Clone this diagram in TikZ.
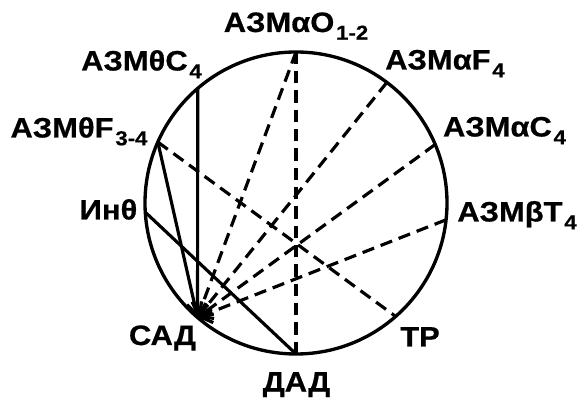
\documentclass[tikz,border=0pt]{standalone}
\usepackage{fontspec}
\setmainfont{Liberation Sans}[FakeStretch=1.1,BoldFeatures={FakeBold=0.6}]
\usepackage{tikz}
\usetikzlibrary{arrows.meta}
\newcommand{\idx}[1]{\hspace{1pt}\raisebox{-4.4pt}{\fontsize{11.5}{12}\selectfont #1}}
\tikzstyle{rim} = [line width=1.9pt]
\tikzstyle{solidarrow} = [line width=1.8pt,->,>={Straight Barb[length=6pt,width=12pt]}]
\tikzstyle{solidline} = [line width=1.8pt]
\tikzstyle{dasharrow} = [line width=1.8pt,dash pattern=on 7pt off 4pt,->,>={Straight Barb[length=6pt,width=12pt]}]
\tikzstyle{dashline} = [line width=1.8pt,dash pattern=on 7pt off 4pt]
\tikzstyle{lbl} = [anchor=base,inner sep=0pt,font=\fontsize{16}{18}\selectfont\bfseries]

\begin{document}
\begin{tikzpicture}
\useasboundingbox (-5.92,-3.92) rectangle (5.64,4.06);
% points on the circle
\coordinate (ao) at (90:3.02);
\coordinate (af) at (53:3.02);
\coordinate (ac) at (22.8:3.02);
\coordinate (bt) at (-6.4:3.02);
\coordinate (tr) at (311.3:3.02);
\coordinate (dad) at (270:3.02);
\coordinate (sad) at (229.3:3.02);
\coordinate (inth) at (183.5:3.02);
\coordinate (thf) at (156.2:3.02);
\coordinate (thc) at (130.6:3.02);

\draw [rim] (0,0) circle (3.02);

% labels
\node (lao) [lbl] at (0,3.42) {АЗМαO\idx{1-2}};
\node (lthc) [lbl] at (-3.09,2.65) {АЗМθC\idx{4}};
\node (laf) [lbl] at (2.98,2.67) {АЗМαF\idx{4}};
\node (lthf) [lbl] at (-4.34,1.31) {АЗМθF\idx{3-4}};
\node (lac) [lbl] at (4.17,1.33) {АЗМαC\idx{4}};
\node (linth) [lbl] at (-3.75,-0.33) {Инθ};
\node (lbt) [lbl] at (4.42,-0.37) {АЗМβT\idx{4}};
\node (lsad) [lbl] at (-2.67,-2.84) {САД};
\node (ltr) [lbl] at (2.48,-2.87) {ТР};
\node (ldad) [lbl] at (0.01,-3.77) {ДАД};

% connections
\draw [solidarrow] (thc) -- (sad);
\draw [solidline] (sad) -- (thf);
\draw [solidline] (inth) -- (dad);
\draw [dashline] (dad) -- (ao);
\draw [dashline] (thf) -- (tr);
\draw [dasharrow] (ao) -- (sad);
\draw [dasharrow] (af) -- (sad);
\draw [dasharrow] (ac) -- (sad);
\draw [dasharrow] (bt) -- (sad);

\end{tikzpicture}
\end{document}
